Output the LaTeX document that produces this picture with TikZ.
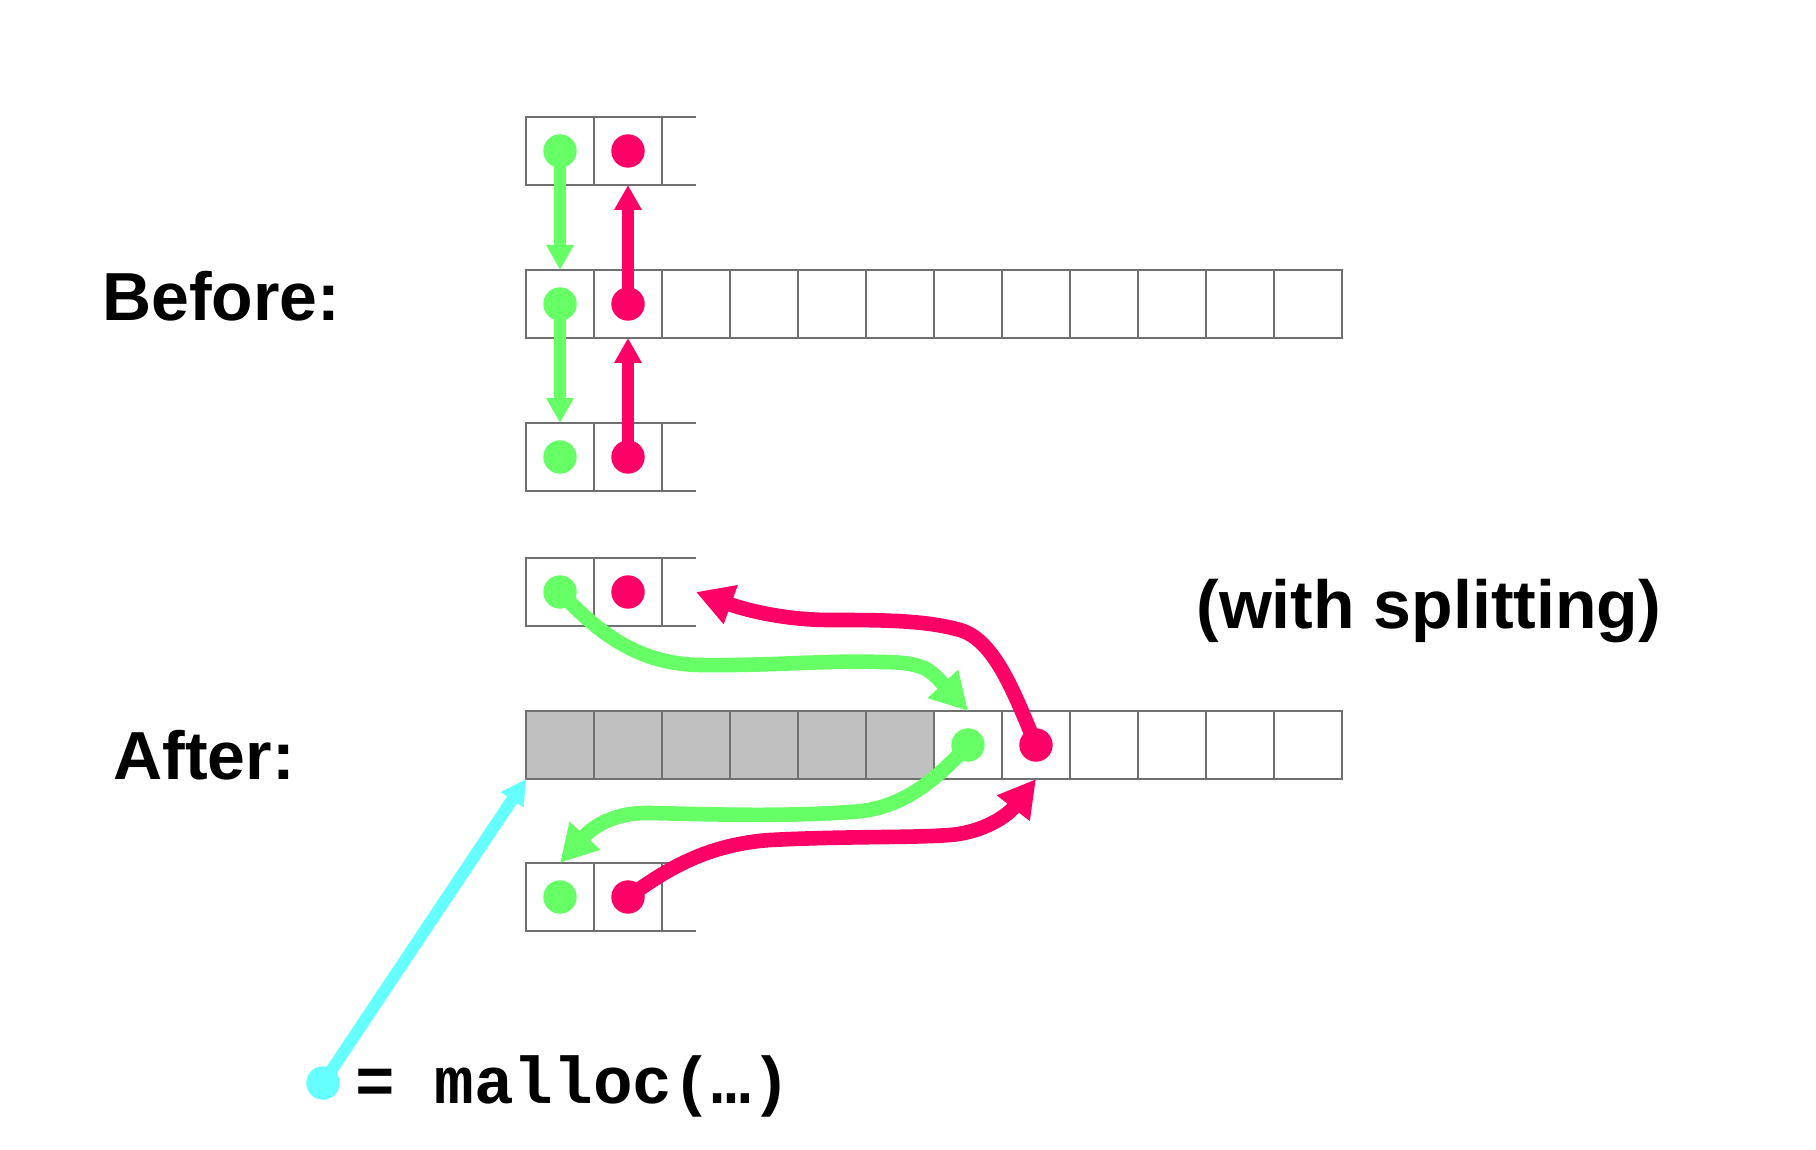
\documentclass[tikz,border=0pt]{standalone}
\usepackage{fontspec}
\setmainfont{Liberation Sans}
\newfontfamily\codefont{Liberation Mono}
\usetikzlibrary{arrows.meta}
\definecolor{ggreen}{HTML}{66FF66}
\definecolor{rred}{HTML}{FF0066}
\definecolor{ccyan}{HTML}{66FFFF}
\definecolor{cellgray}{HTML}{C0C0C0}
\definecolor{gridline}{HTML}{707070}
\begin{document}
\begin{tikzpicture}[x=0.5pt,y=-0.5pt,
 cell/.style={draw=gridline, line width=0.6pt, minimum width=34pt, minimum height=34pt, inner sep=0pt, outer sep=0pt},
 usedcell/.style={cell, fill=cellgray},
 halfcell/.style={draw=gridline, line width=0.6pt},
 dot/.style={circle, inner sep=0pt, outer sep=0pt, minimum size=16.7pt},
 gdot/.style={dot, fill=ggreen},
 rdot/.style={dot, fill=rred},
 cdot/.style={dot, fill=ccyan},
 straight/.style={line width=5.8pt, -{Triangle[length=12.5pt,width=13pt]}},
 curved/.style={line width=7.3pt, -{Triangle[length=18.5pt,width=19.5pt]}},
 bigtext/.style={font={\fontsize{34}{40}\selectfont\bfseries}, inner sep=0pt, anchor=base west},
]
\useasboundingbox (0,0) rectangle (1816,1150);

% short rows (two cells and an open half cell)
\foreach \rw/\yy in {bt/151, bb/457, at/592, ab/897} {
  \foreach \i in {0,1} \node[cell] (\rw\i) at ({560+68*\i},\yy) {};
  \draw[halfcell] (\rw1.north east) -- ++(34,0) (\rw1.south east) -- ++(34,0);
}
% long rows
\foreach \i in {0,...,11} \node[cell] (bm\i) at ({560+68*\i},304) {};
\foreach \i in {0,...,5} \node[usedcell] (am\i) at ({560+68*\i},745) {};
\foreach \i in {6,...,11} \node[cell] (am\i) at ({560+68*\i},745) {};

% dots
\node[gdot] (gbt) at (bt0) {}; \node[rdot] (rbt) at (bt1) {};
\node[gdot] (gbm) at (bm0) {}; \node[rdot] (rbm) at (bm1) {};
\node[gdot] (gbb) at (bb0) {}; \node[rdot] (rbb) at (bb1) {};
\node[gdot] (gat) at (at0) {}; \node[rdot] (rat) at (at1) {};
\node[gdot] (gam) at (am6) {}; \node[rdot] (ram) at (am7) {};
\node[gdot] (gab) at (ab0) {}; \node[rdot] (rab) at (ab1) {};
\node[cdot] (cd) at (323,1083) {};
\coordinate (atend) at ([xshift=17pt]at1.east);

% straight arrows (before)
\draw[straight, ggreen] (gbt.center) -- (bm0.north);
\draw[straight, ggreen] (gbm.center) -- (bb0.north);
\draw[straight, rred] (rbm.center) -- (bt1.south);
\draw[straight, rred] (rbb.center) -- (bm1.south);
\draw[straight, ccyan, line width=6pt] (cd.center) -- (am0.south west);

% curved arrows (after)
\draw[curved, ggreen] (gat.center) .. controls (600,635) and (640,664) .. (700,665)
  .. controls (770,666) and (830,660) .. (880,662)
  .. controls (925,662) and (930,670) .. (am6.north);
\draw[curved, rred] (ram.center) .. controls (1015,695) and (995,640) .. (960,630)
  .. controls (925,620) and (880,620) .. (830,620)
  .. controls (780,620) and (740,608) .. (atend);
\draw[curved, ggreen] (gam.center) .. controls (940,775) and (905,810) .. (850,812)
  .. controls (780,817) and (700,814) .. (650,813)
  .. controls (610,812) and (590,830) .. (ab0.north);
\draw[curved, rred] (rab.center) .. controls (660,875) and (700,845) .. (770,840)
  .. controls (850,836) and (910,838) .. (950,835)
  .. controls (985,832) and (1008,815) .. (am7.south);

% texts
\node[bigtext] (before) at (102,321) {Before:};
\node[bigtext] (after) at (113,779) {After:};
\node[bigtext] (split) at (1196,628) {(with splitting)};
\node[inner sep=0pt, anchor=base west, font={\codefont\bfseries\fontsize{33}{40}\selectfont}] (malloc) at (355,1103) {= malloc(…)};
\end{tikzpicture}
\end{document}
